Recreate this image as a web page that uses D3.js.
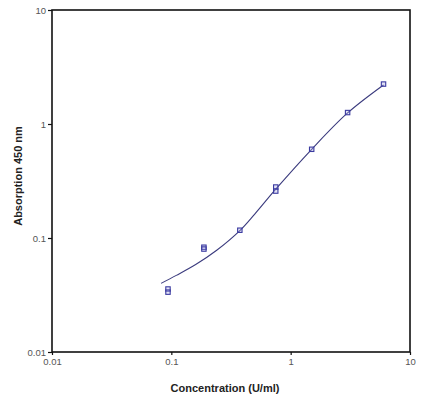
<!DOCTYPE html>
<html>
<head>
<meta charset="utf-8">
<script src="https://cdn.jsdelivr.net/npm/d3@7"></script>
<style>
  body { margin: 0; background: #fff; }
  .tick-label { font-family: "Liberation Sans", Arial, sans-serif; font-size: 9.5px; fill: #555; }
  .axis-title { font-family: "Liberation Sans", Arial, sans-serif; font-size: 11px; font-weight: bold; fill: #222; }
</style>
</head>
<body>
<div id="chart"></div>
<script>
// measured replicates (concentration in U/ml, absorption at 450 nm)
var concentrations = [0.09375, 0.09375, 0.1875, 0.1875, 0.375, 0.75, 0.75, 1.5, 3, 6];
var absorptions = [0.0357, 0.0335, 0.083, 0.080, 0.117, 0.28, 0.258, 0.60, 1.26, 2.24];

// fitted curve
var curveX = [0.082, 0.11, 0.16, 0.24, 0.375, 0.5, 0.75, 1.5, 3, 6];
var curveY = [0.040, 0.047, 0.0585, 0.078, 0.116, 0.162, 0.268, 0.60, 1.25, 2.2];

var xTicks = [0.01, 0.1, 1, 10];
var yTicks = [0.01, 0.1, 1, 10];
var xTitle = "Concentration (U/ml)";
var yTitle = "Absorption 450 nm";

var width = 431;
var height = 399;
var margin = {top: 10, right: 21, bottom: 47, left: 52};
var innerWidth = width - margin.left - margin.right;
var innerHeight = height - margin.top - margin.bottom;

var svg = d3.select("#chart").append("svg")
    .attr("width", width)
    .attr("height", height);

var g = svg.append("g")
    .attr("transform", "translate(" + margin.left + "," + margin.top + ")");

var x = d3.scaleLog().domain([0.01, 10]).range([0, innerWidth]);
var y = d3.scaleLog().domain([0.01, 10]).range([innerHeight, 0]);

var fmt = function(d) { return "" + d; };

// axes
var xAxis = g.append("g")
    .attr("transform", "translate(0," + innerHeight + ")")
    .call(d3.axisBottom(x).tickValues(xTicks).tickFormat(fmt).tickSize(3).tickPadding(3));

var yAxis = g.append("g")
    .call(d3.axisLeft(y).tickValues(yTicks).tickFormat(fmt).tickSize(4).tickPadding(2));

[xAxis, yAxis].forEach(function(a) {
    a.select(".domain").remove();
    a.selectAll("line").attr("stroke", "#111").attr("stroke-width", 1.2);
    a.selectAll("text").attr("class", "tick-label").attr("fill", null);
});

// frame around the plot
g.append("rect")
    .attr("width", innerWidth)
    .attr("height", innerHeight)
    .attr("fill", "none")
    .attr("stroke", "#111")
    .attr("stroke-width", 1.6);

// fitted curve
var curveData = curveX.map(function(d, i) { return [d, curveY[i]]; });
g.append("path")
    .datum(curveData)
    .attr("fill", "none")
    .attr("stroke", "#3b3b7e")
    .attr("stroke-width", 1.1)
    .attr("d", d3.line()
        .x(function(d) { return x(d[0]); })
        .y(function(d) { return y(d[1]); })
        .curve(d3.curveCatmullRom));

// data markers
var points = concentrations.map(function(d, i) { return [d, absorptions[i]]; });
g.selectAll("rect.pt")
    .data(points)
    .enter().append("rect")
    .attr("class", "pt")
    .attr("x", function(d) { return x(d[0]) - 2.2; })
    .attr("y", function(d) { return y(d[1]) - 2.2; })
    .attr("width", 4.4)
    .attr("height", 4.4)
    .attr("fill", "rgba(170,170,230,0.35)")
    .attr("stroke", "#3a3aa0")
    .attr("stroke-width", 1.1);

// axis titles
svg.append("text")
    .attr("class", "axis-title")
    .attr("x", 225)
    .attr("y", 392)
    .attr("text-anchor", "middle")
    .text(xTitle);

svg.append("text")
    .attr("class", "axis-title")
    .attr("transform", "translate(22,176) rotate(-90)")
    .attr("text-anchor", "middle")
    .text(yTitle);
</script>
</body>
</html>
